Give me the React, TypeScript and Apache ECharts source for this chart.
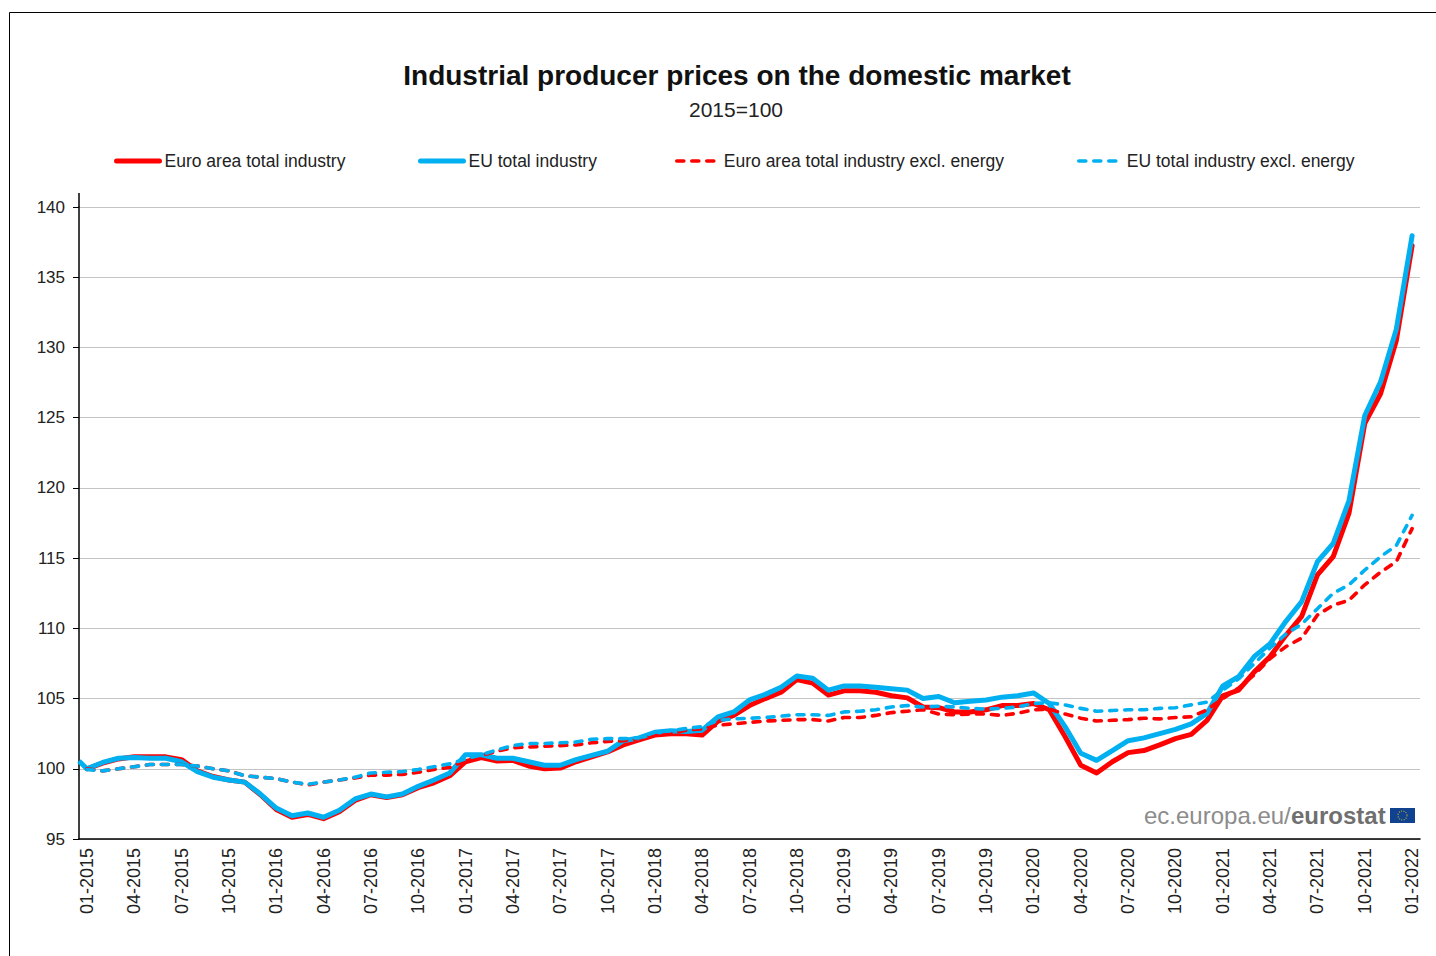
import React, { useEffect, useRef } from "react";
import * as echarts from "echarts";

const months = ["01", "02", "03", "04", "05", "06", "07", "08", "09", "10", "11", "12"];
const years = [2015, 2016, 2017, 2018, 2019, 2020, 2021];
const categories: string[] = [...years.flatMap((y) => months.map((m) => `${m}-${y}`)), "01-2022"];

const euroTotal = [
  100.0, 100.4, 100.7, 100.85, 100.85, 100.85, 100.65, 99.85, 99.45, 99.2, 99.05, 98.15,
  97.1, 96.55, 96.75, 96.45, 96.95, 97.75, 98.15, 97.95, 98.15, 98.65, 99.0, 99.5,
  100.5, 100.8, 100.55, 100.6, 100.2, 100.0, 100.05, 100.5, 100.85, 101.2, 101.7, 102.05,
  102.4, 102.5, 102.5, 102.4, 103.4, 103.8, 104.5, 105.0, 105.45, 106.35, 106.1, 105.25,
  105.55, 105.55, 105.45, 105.2, 105.05, 104.4, 104.35, 104.05, 104.05, 104.2, 104.5, 104.5,
  104.65, 104.2, 102.3, 100.25, 99.7, 100.5, 101.15, 101.3, 101.7, 102.15, 102.45, 103.45,
  105.2, 105.6, 106.9, 108.0, 109.5, 110.85, 113.8, 115.1, 118.2, 124.6, 126.7, 130.5, 137.25,
];
const euTotal = [
  100.0, 100.45, 100.75, 100.8, 100.75, 100.75, 100.5, 99.8, 99.4, 99.2, 99.05, 98.2,
  97.2, 96.65, 96.85, 96.55, 97.05, 97.85, 98.2, 98.0, 98.2, 98.75, 99.2, 99.7,
  101.0, 101.0, 100.75, 100.75, 100.5, 100.25, 100.25, 100.65, 100.95, 101.25, 102.0, 102.2,
  102.6, 102.7, 102.65, 102.75, 103.7, 104.05, 104.9, 105.3, 105.8, 106.6, 106.45, 105.6,
  105.9, 105.9, 105.8, 105.7, 105.6, 105.0, 105.15, 104.7, 104.8, 104.9, 105.1, 105.2,
  105.4, 104.65, 103.0, 101.1, 100.6, 101.3, 102.0, 102.2, 102.5, 102.8, 103.2, 103.95,
  105.9, 106.55, 108.0, 108.9, 110.5, 111.9, 114.75, 116.05, 119.1, 125.15, 127.55, 131.3, 137.95,
];
const euroExEnergy = [
  100.0, 99.85, 100.0, 100.15, 100.3, 100.3, 100.3, 100.2, 100.0, 99.85, 99.5, 99.4,
  99.3, 99.05, 98.85, 99.05, 99.2, 99.35, 99.55, 99.55, 99.6, 99.75, 99.95, 100.1,
  100.6, 100.95, 101.25, 101.5, 101.55, 101.6, 101.65, 101.7, 101.85, 101.95, 102.0, 102.15,
  102.4, 102.5, 102.75, 102.85, 103.1, 103.2, 103.3, 103.4, 103.45, 103.5, 103.5, 103.4,
  103.65, 103.65, 103.8, 104.0, 104.1, 104.2, 103.9, 103.85, 103.9, 103.9, 103.8, 103.95,
  104.2, 104.25, 103.9, 103.6, 103.4, 103.45, 103.5, 103.6, 103.55, 103.65, 103.7, 104.2,
  105.0, 105.75, 106.7, 107.85, 108.7, 109.3, 110.95, 111.65, 112.0, 113.1, 114.0, 114.75, 117.1,
];
const euExEnergy = [
  99.95, 99.85, 100.0, 100.15, 100.3, 100.3, 100.3, 100.2, 100.0, 99.85, 99.5, 99.4,
  99.3, 99.05, 98.9, 99.05, 99.2, 99.4, 99.7, 99.75, 99.8, 99.95, 100.15, 100.35,
  100.7, 101.0, 101.35, 101.65, 101.8, 101.8, 101.85, 101.9, 102.1, 102.15, 102.15, 102.2,
  102.6, 102.7, 102.87, 103.0, 103.45, 103.55, 103.6, 103.65, 103.75, 103.85, 103.85, 103.8,
  104.05, 104.1, 104.2, 104.4, 104.5, 104.4, 104.45, 104.4, 104.3, 104.25, 104.3, 104.4,
  104.65, 104.7, 104.55, 104.3, 104.1, 104.15, 104.2, 104.2, 104.3, 104.35, 104.55, 104.75,
  105.6, 106.4, 107.5, 108.6, 109.6, 110.3, 111.4, 112.5, 113.1, 114.15, 115.1, 115.9, 118.05,
];
const leadIn = [[-0.5, 100.55], [0, 100.0]];

const FONT = "Liberation Sans";
const RED = "#ff0000";
const BLUE = "#00b0f0";
const DASH = [7, 8];
const NAMES = [
  "Euro area total industry",
  "EU total industry",
  "Euro area total industry excl. energy",
  "EU total industry excl. energy",
];
const legendSpec = [
  { left: 114, width: 43, dashed: false },
  { left: 418, width: 43, dashed: false },
  { left: 675, width: 42, dashed: true },
  { left: 1077, width: 43, dashed: true },
];

export default function App() {
  const ref = useRef<HTMLDivElement>(null);
  useEffect(() => {
    document.body.style.margin = "0";
    const chart = echarts.init(ref.current!, null, { renderer: "svg" });
    const line = (name: string, data: number[], color: string, dashed: boolean) => ({
      name,
      type: "line",
      data,
      xAxisIndex: 0,
      yAxisIndex: 0,
      symbol: "none",
      smooth: false,
      lineStyle: {
        color,
        width: dashed ? 3.6 : 5,
        type: dashed ? DASH : "solid",
        cap: "round",
        join: "round",
      },
      itemStyle: { color },
    });
    chart.setOption({
      animation: false,
      backgroundColor: "#fff",
      title: [
        {
          text: "Industrial producer prices on the domestic market",
          left: 732,
          top: 56,
          textAlign: "center",
          textStyle: { fontFamily: FONT, fontSize: 28, fontWeight: "bold", color: "#111" },
        },
        {
          text: "2015=100",
          left: 731,
          top: 94,
          textAlign: "center",
          textStyle: { fontFamily: FONT, fontSize: 21, fontWeight: "normal", color: "#222" },
        },
      ],
      legend: NAMES.map((n, i) => ({
        data: [n],
        left: legendSpec[i].left,
        top: 152,
        itemWidth: legendSpec[i].width,
        itemHeight: 16,
        padding: 0,
        itemStyle: { opacity: 0 },
        lineStyle: {
          width: legendSpec[i].dashed ? 3.6 : 5,
          type: legendSpec[i].dashed ? DASH : "solid",
          cap: "round",
        },
        textStyle: { fontFamily: FONT, fontSize: 17.5, color: "#222" },
      })),
      grid: { left: 79, right: 16, top: 207, height: 632, containLabel: false },
      xAxis: [
        {
          type: "category",
          data: categories,
          boundaryGap: true,
          axisLine: { onZero: false, lineStyle: { color: "#000", width: 1.5 } },
          axisTick: { interval: 0, length: 6, lineStyle: { color: "#000" } },
          axisLabel: {
            interval: 2,
            rotate: 90,
            margin: 9,
            padding: [5, 0, 0, 0],
            fontFamily: FONT,
            fontSize: 18,
            color: "#222",
          },
          splitLine: { show: false },
        },
        { type: "value", min: -0.5, max: 84.5, show: false, splitLine: { show: false } },
      ],
      yAxis: {
        type: "value",
        min: 95,
        max: 140,
        interval: 5,
        axisLine: { show: true, onZero: false, lineStyle: { color: "#000", width: 1.5 } },
        axisTick: { show: true, length: 6, lineStyle: { color: "#000" } },
        axisLabel: { margin: 14, padding: [0, 0, 3, 0], fontFamily: FONT, fontSize: 17, color: "#222" },
        splitLine: { show: true, lineStyle: { color: "#c4c4c4", width: 1.2 } },
      },
      series: [
        line(NAMES[0], euroTotal, RED, false),
        {
          name: "lead-in",
          type: "line",
          data: leadIn,
          xAxisIndex: 1,
          yAxisIndex: 0,
          symbol: "none",
          lineStyle: { color: BLUE, width: 5, join: "round" },
        },
        line(NAMES[1], euTotal, BLUE, false),
        line(NAMES[2], euroExEnergy, RED, true),
        line(NAMES[3], euExEnergy, BLUE, true),
      ],
      graphic: [
        {
          type: "rect",
          shape: { x: 9.5, y: 12.5, width: 1500, height: 1000 },
          style: { fill: "none", stroke: "#000", lineWidth: 1 },
          silent: true,
        },
        {
          type: "line",
          shape: { x1: 79, y1: 193, x2: 79, y2: 207 },
          style: { stroke: "#000", lineWidth: 1.5 },
          silent: true,
        },
        {
          type: "text",
          x: 1144,
          y: 815,
          style: {
            text: "ec.europa.eu/",
            fontFamily: FONT,
            fontSize: 24,
            fill: "#8c8c8c",
            verticalAlign: "middle",
          },
          silent: true,
        },
        {
          type: "text",
          x: 1291,
          y: 815,
          style: {
            text: "eurostat",
            fontFamily: FONT,
            fontSize: 24,
            fontWeight: "bold",
            fill: "#6f6f6f",
            verticalAlign: "middle",
          },
          silent: true,
        },
        {
          type: "rect",
          shape: { x: 1390, y: 808, width: 25, height: 15 },
          style: { fill: "#10428f" },
          silent: true,
        },
        {
          type: "circle",
          shape: { cx: 1402.5, cy: 815.5, r: 4.5 },
          style: { fill: "none", stroke: "#b8a93a", lineWidth: 1.2, lineDash: [1, 1.4] },
          silent: true,
        },
      ],
    });
    return () => chart.dispose();
  }, []);
  return <div ref={ref} style={{ width: 1436, height: 956 }} />;
}
